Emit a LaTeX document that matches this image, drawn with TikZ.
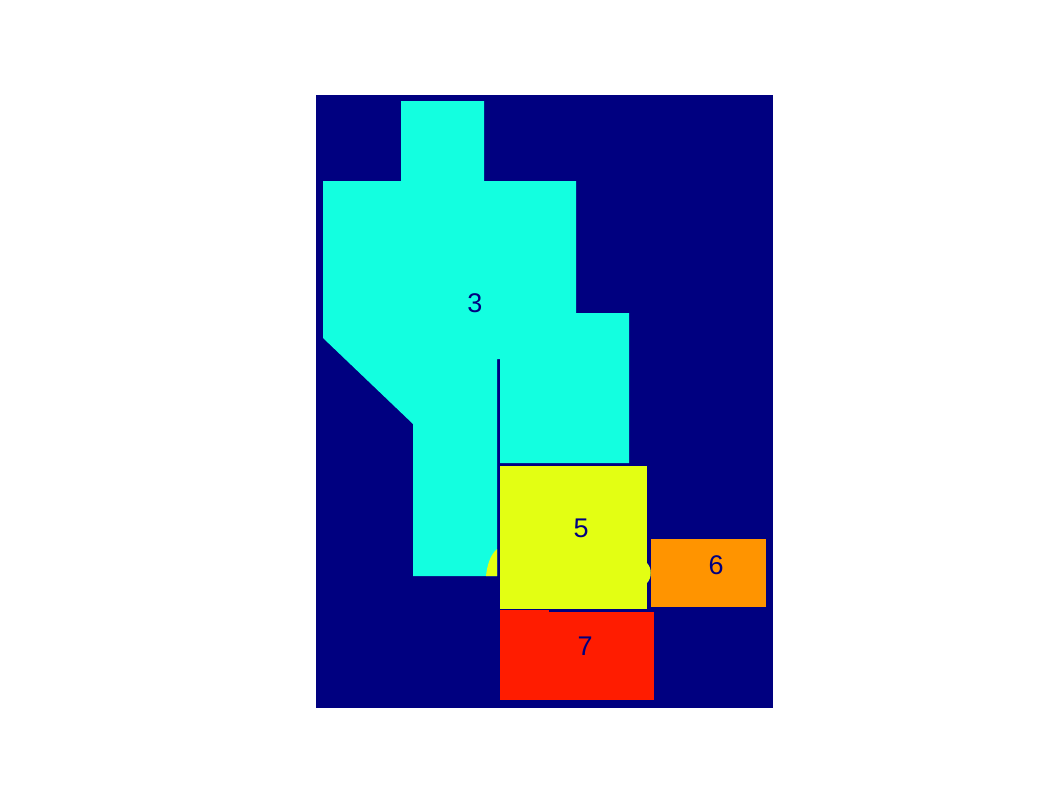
\documentclass[tikz,border=0pt]{standalone}
\usepackage{fontspec}
\setmainfont{Liberation Sans}
\usepackage{xcolor}
\definecolor{bg}{HTML}{000080}
\definecolor{rcyan}{HTML}{13FFE0}
\definecolor{ryel}{HTML}{E3FF13}
\definecolor{rorg}{HTML}{FF9400}
\definecolor{rred}{HTML}{FF1C00}
\usepackage{tikz}
\usetikzlibrary{positioning}
\tikzset{
  room/.style={line width=0pt},
  lab/.style={font=\fontsize{27}{27}\selectfont,text=bg,inner sep=0pt},
}

\begin{document}
\begin{tikzpicture}[x=1pt,y=-1pt]
\useasboundingbox (0,0) rectangle (1062,796);
\fill[bg] (316,95) rectangle (773,708);
% room 3
\fill[room,rcyan] (401,101) -- (484,101) -- (484,181) -- (576,181) -- (576,313) -- (629,313)
  -- (629,463) -- (500,463) -- (500,359) -- (497,359) -- (497,576) -- (413,576)
  -- (413,424) -- (323,338) -- (323,181) -- (401,181) -- cycle;
% room 5, with door swings
\fill[room,ryel] (500,466) rectangle (647,609);
\fill[room,ryel] (497,549) .. controls (490,555) and (487,566) .. (486,576) -- (497,576) -- cycle;
\fill[room,ryel] (647,563) .. controls (652,568) and (652,578) .. (647,583) -- cycle;
% room 7
\fill[room,rred] (500,610) rectangle (654,700);
\fill[bg] (549,609) rectangle (658,612);
% room 6
\fill[room,rorg] (651,539) rectangle (766,607);
\node[lab] (l3) at (475,303) {3};
\node[lab] (l5) at (581,528) {5};
\node[lab] (l6) at (716,565) {6};
\node[lab] (l7) at (585,646) {7};
\end{tikzpicture}
\end{document}
